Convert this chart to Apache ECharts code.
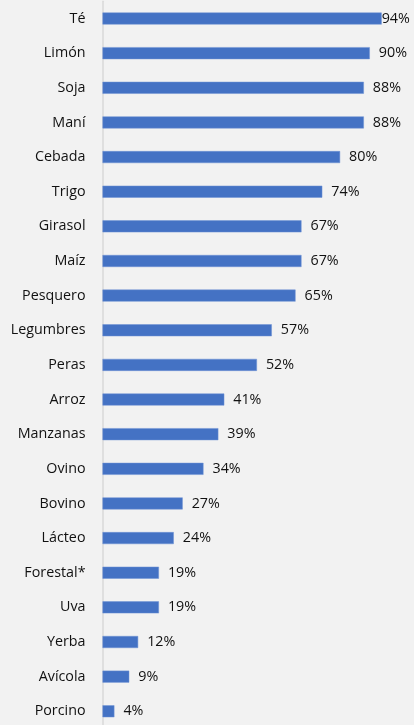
<!DOCTYPE html>
<html>
<head>
<meta charset="utf-8">
<script src="https://cdn.jsdelivr.net/npm/echarts@6/dist/echarts.min.js"></script>
<style>
html,body{margin:0;padding:0;background:#f2f2f2;}
#c{width:414px;height:725px;}
</style>
</head>
<body>
<div id="c"></div>
<script>
const categories = ["Té","Limón","Soja","Maní","Cebada","Trigo","Girasol","Maíz","Pesquero","Legumbres","Peras","Arroz","Manzanas","Ovino","Bovino","Lácteo","Forestal*","Uva","Yerba","Avícola","Porcino"];
const values = [94,90,88,88,80,74,67,67,65,57,52,41,39,34,27,24,19,19,12,9,4];

const chart = echarts.init(document.getElementById('c'), null, {renderer:'canvas'});
const font = "'Open Sans', 'Noto Sans', sans-serif";
chart.setOption({
  backgroundColor: '#f2f2f2',
  animation: false,
  grid: {left: 102.5, width: 297, top: 1.2, height: 727.4, containLabel: false, outerBoundsMode: 'none'},
  xAxis: {type:'value', min:0, max:100, show:false},
  yAxis: {
    type:'category', inverse:true, data: categories,
    axisLine:{show:true, lineStyle:{color:'#d9d9d9', width:1.5}},
    axisTick:{show:false},
    axisLabel:{color:'#111', fontSize:14.3, fontFamily:font, margin:17}
  },
  series:[{
    type:'bar', barWidth:12,
    data: values.map((v,i)=> i===0 ? {value:v, label:{distance:0}} : v),
    itemStyle:{color:'#4472c4', borderColor:'#6f93d4', borderWidth:0.5},
    label:{show:true, position:'right', distance:9, formatter:'{c}%', color:'#111', fontSize:14.3, fontFamily:font}
  }]
});
</script>
</body>
</html>
